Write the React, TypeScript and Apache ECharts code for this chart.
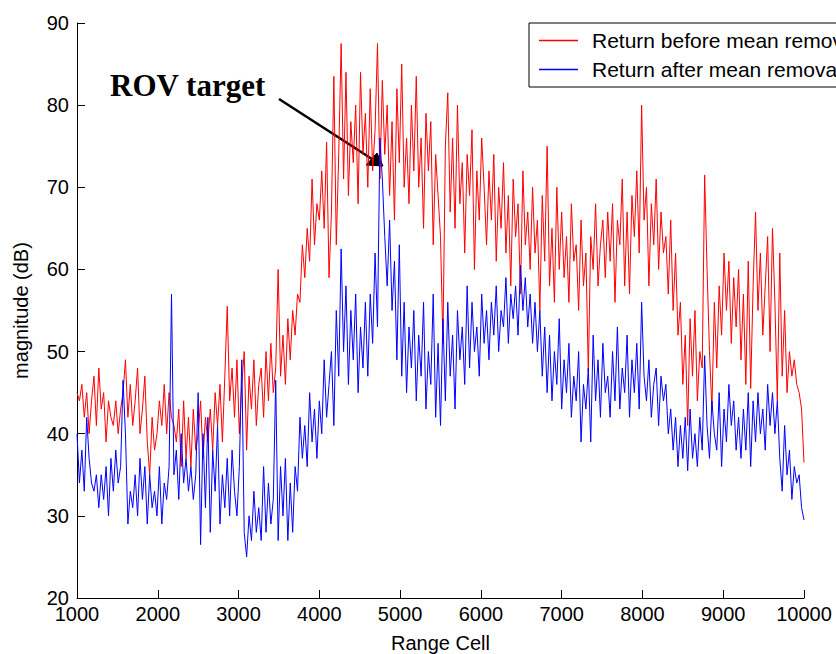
import React, { useEffect, useRef } from "react";
import * as echarts from "echarts";

const RANGE_START = 1000;
const RANGE_STEP = 30;

const X_TICKS = [1000, 2000, 3000, 4000, 5000, 6000, 7000, 8000, 9000, 10000];
const Y_TICKS = [20, 30, 40, 50, 60, 70, 80, 90];

const SERIES_NAMES = ["Return before mean removal", "Return after mean removal"];

// Return before mean removal (dB), one value every RANGE_STEP cells from RANGE_START
const BEFORE = [
  45, 44, 46, 42, 45, 40, 44, 47, 41, 48,
  43, 45, 39, 44, 42, 41, 44, 40, 43, 45,
  49, 42, 46, 41, 44, 48, 40, 43, 47, 39,
  35, 42, 38, 40, 44, 41, 46, 40, 45, 42,
  41, 39, 43, 36, 44, 37, 42, 36, 43, 38,
  40, 44, 37, 42, 39, 43, 38, 45, 41, 46,
  39, 47, 55.5, 44, 48, 42, 49, 40, 46, 50,
  38, 47, 43, 49, 41, 46, 48, 42, 50, 44,
  51, 45, 48, 60, 47, 52, 46, 54, 49, 55,
  52, 57, 56, 63, 59, 65, 61, 71, 63, 68,
  66, 72, 65, 75.5, 59, 67, 83.5, 63, 74, 87.5,
  71, 84, 69, 78, 73, 80, 68, 84, 74, 79,
  70, 82, 72, 77, 87.5, 71, 83, 74, 80, 69,
  78, 66, 82, 73, 85, 70, 76, 68, 80, 72,
  83.5, 70, 76, 65, 79, 72, 78, 63, 74, 69,
  64, 51, 75, 81.5, 67, 76, 65, 80, 68, 73,
  62, 74, 69, 77, 60, 72, 66, 76, 70, 63,
  72, 66, 74, 61, 70, 65, 73, 62, 69, 58,
  71, 64, 68, 57, 72, 63, 67, 60, 70, 62,
  66, 55, 69, 61, 75, 58, 65, 56, 70, 60,
  67, 59, 64, 56, 68, 61, 63, 55, 66, 58,
  62, 47.5, 64, 60, 68, 58, 63, 66, 59, 67,
  61, 68, 56, 66, 63, 71, 58, 67, 57, 69,
  64, 72, 62, 80, 66, 70, 58, 68, 63, 71,
  60, 67, 62, 64, 57, 66, 55, 62, 52, 56,
  46, 52, 41, 54, 47, 55, 44, 50, 48, 71.5,
  60, 50, 43, 56, 48, 58, 52, 62, 55, 61,
  51, 59, 53, 60, 49, 57, 46, 61, 45.5, 58,
  67, 55, 62, 52, 58, 64, 50, 65, 56, 44,
  62, 47, 55, 45, 50, 47, 49, 46, 45, 43,
  36.5,
];

// Return after mean removal (dB)
const AFTER = [
  40, 34, 38, 33, 42, 37, 34, 33, 35, 31,
  35, 32, 36, 30, 37, 33, 38, 34, 36, 46.5,
  40, 29, 33, 31, 35, 30, 37, 32, 36, 29,
  35, 31, 33, 30, 36, 29, 34, 32, 36, 57,
  35, 38, 32, 40, 34, 37, 33, 36, 32, 35,
  45, 26.5, 40, 31, 42, 28, 38, 33, 41, 29,
  35, 31, 37, 30, 38, 33, 30, 36, 49, 28,
  25, 30, 27, 33, 28, 31, 27, 36, 28, 34,
  29, 32, 46.5, 27, 36, 30, 37, 27, 34, 28,
  36, 33, 42, 37, 41, 36, 45, 39, 43, 37,
  44, 40, 49, 42, 46, 50, 41, 55, 47, 62.5,
  50, 58, 46, 55, 49, 57, 45, 53, 48, 56,
  47, 57, 51, 62, 53, 76, 71, 64, 58, 66,
  55, 61, 49, 63, 47, 56, 45, 53, 48, 55,
  44, 52, 47, 56, 43, 50, 46, 57, 42, 51,
  41, 54, 44, 56, 47, 52, 43, 55, 49, 53,
  46, 58, 48, 56, 50, 53, 47, 57, 51, 55,
  49, 56, 52, 58, 50, 55, 53, 59, 51, 57,
  54, 58, 52, 60.5, 55, 59, 53, 57, 51, 56,
  50, 55, 47, 53, 45, 52, 44, 50, 46, 54,
  43, 49, 45, 51, 42, 47, 44, 50, 39, 46,
  43, 48, 39, 52, 44, 49, 42, 51, 45, 47,
  42, 50, 44, 53, 43, 48, 45, 52, 42, 49,
  45, 51, 43, 56, 47, 44, 49, 42, 46, 48,
  41, 47, 44, 46, 40, 43, 38, 42, 36, 41,
  37, 42, 35.5, 43, 37, 40, 36, 42, 38, 49.5,
  41, 37, 44, 40, 38, 45, 36, 43, 39, 46,
  41, 44, 38, 42, 37, 43, 38, 45, 36, 44,
  39, 45, 40, 43, 38, 46, 41, 45, 40, 44,
  37, 33, 41, 35, 38, 32, 36, 34, 35, 31,
  29.5,
];

const ANNOTATION = "ROV target";

const SANS = "'Liberation Sans', Arial, Helvetica, sans-serif";
const SERIF = "'Liberation Serif', 'Times New Roman', serif";

function toPairs(values: number[]) {
  return values.map((v, i) => [RANGE_START + i * RANGE_STEP, v]);
}

export default function App() {
  const ref = useRef<HTMLDivElement>(null);

  useEffect(() => {
    if (!ref.current) return;
    const chart = echarts.init(ref.current, undefined, { renderer: "svg" });
    const axisCommon = {
      type: "value" as const,
      axisLine: { show: true, lineStyle: { color: "#000", width: 1 } },
      axisTick: { show: true, inside: true, length: 8, lineStyle: { color: "#000", width: 1 } },
      splitLine: { show: false },
      nameLocation: "middle" as const,
      nameTextStyle: { fontSize: 20, color: "#000", fontFamily: SANS },
    };
    chart.setOption({
      animation: false,
      backgroundColor: "#fff",
      grid: { left: 77, right: 32, top: 23, bottom: 56, containLabel: false, outerBoundsMode: "none" },
      xAxis: {
        ...axisCommon,
        min: X_TICKS[0],
        max: X_TICKS[X_TICKS.length - 1],
        interval: X_TICKS[1] - X_TICKS[0],
        name: "Range Cell",
        nameGap: 35,
        axisLabel: {
          fontSize: 20,
          color: "#000",
          margin: 6,
          fontFamily: SANS,
          showMinLabel: true,
          showMaxLabel: true,
          formatter: (v: number) => String(v),
        },
      },
      yAxis: {
        ...axisCommon,
        min: Y_TICKS[0],
        max: Y_TICKS[Y_TICKS.length - 1],
        interval: Y_TICKS[1] - Y_TICKS[0],
        name: "magnitude (dB)",
        nameGap: 46,
        axisLabel: {
          fontSize: 20,
          color: "#000",
          margin: 8,
          fontFamily: SANS,
          showMinLabel: true,
          showMaxLabel: true,
          formatter: (v: number) => String(v),
        },
      },
      legend: {
        orient: "vertical",
        left: 529,
        top: 23,
        padding: [7, 10, 7, 10],
        itemWidth: 39,
        itemHeight: 1.5,
        itemGap: 8,
        icon: "rect",
        backgroundColor: "#fff",
        borderColor: "#000",
        borderWidth: 1,
        borderRadius: 0,
        textStyle: { fontSize: 21, lineHeight: 20, color: "#000", fontFamily: SANS, padding: [0, 0, 0, 9] },
        data: SERIES_NAMES,
      },
      series: [
        {
          name: SERIES_NAMES[0],
          type: "line",
          data: toPairs(BEFORE),
          symbol: "none",
          showSymbol: false,
          lineStyle: { color: "#ff0000", width: 1 },
          itemStyle: { color: "#ff0000" },
        },
        {
          name: SERIES_NAMES[1],
          type: "line",
          data: toPairs(AFTER),
          symbol: "none",
          showSymbol: false,
          lineStyle: { color: "#0000ff", width: 1 },
          itemStyle: { color: "#0000ff" },
        },
      ],
      graphic: [
        {
          type: "text",
          style: {
            text: ANNOTATION,
            x: 110,
            y: 85,
            font: `bold 31px ${SERIF}`,
            fill: "#000",
            textAlign: "left",
            textVerticalAlign: "middle",
          },
        },
        {
          type: "line",
          shape: { x1: 279, y1: 99, x2: 372, y2: 159 },
          style: { stroke: "#000", lineWidth: 2.5 },
        },
        {
          type: "polygon",
          shape: { points: [[383, 166], [366, 165], [377, 153]] },
          style: { fill: "#000", stroke: "#000", lineWidth: 1 },
        },
      ],
    });
    return () => chart.dispose();
  }, []);

  return (
    <div
      ref={ref}
      style={{ position: "absolute", left: 0, top: 0, width: 836, height: 654 }}
    />
  );
}
